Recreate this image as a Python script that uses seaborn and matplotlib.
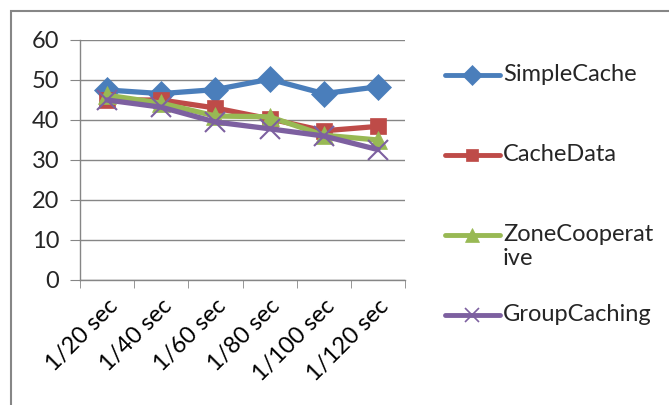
import pandas as pd
import numpy as np
import matplotlib.pyplot as plt
import seaborn as sns
from matplotlib.lines import Line2D
from matplotlib.patches import Rectangle

# Values
intervals = ['1/20 sec', '1/40 sec', '1/60 sec', '1/80 sec', '1/100 sec', '1/120 sec']
simple_cache = [47.5, 46.6, 47.6, 50.2, 46.6, 48.3]
cache_data = [45.0, 45.0, 43.0, 40.3, 37.3, 38.4]
zone_coop = [46.2, 44.2, 41.0, 40.8, 36.2, 35.0]
group_caching = [45.0, 43.2, 39.5, 37.8, 36.0, 32.6]
series_names = ['SimpleCache', 'CacheData', 'ZoneCooperative', 'GroupCaching']
legend_labels = ['SimpleCache', 'CacheData', 'ZoneCooperat\nive', 'GroupCaching']

colors = ['#4A7EBB', '#BE4B48', '#98B954', '#7D60A0']
markers = ['D', 's', '^', 'x']
msizes = [13, 12, 13, 14]
FS = 17

df = pd.DataFrame({
    'interval': intervals * 4,
    'value': simple_cache + cache_data + zone_coop + group_caching,
    'series': np.repeat(series_names, len(intervals)),
})

sns.set_style('white')
plt.rcParams['font.family'] = ['Lato', 'DejaVu Sans']

fig = plt.figure(figsize=(6.69, 4.05), dpi=100)
ax = fig.add_axes([80 / 669, 1 - 280 / 405, 325 / 669, 240 / 405])

for name, col, mk, ms in zip(series_names, colors, markers, msizes):
    sub = df[df['series'] == name]
    sns.lineplot(data=sub, x='interval', y='value', ax=ax, color=col, lw=3.8,
                 marker=mk, markersize=ms, markeredgecolor=col,
                 markeredgewidth=1.5 if mk == 'x' else 0.5, sort=False, legend=False)

ax.set_xlim(-0.5, len(intervals) - 0.5)
ax.set_ylim(0, 60)
ax.set_yticks(range(0, 61, 10))
ax.yaxis.grid(True, color='#868686', lw=1)
ax.set_xlabel('')
ax.set_ylabel('')
for s in ['top', 'right']:
    ax.spines[s].set_visible(False)
for s in ['left', 'bottom']:
    ax.spines[s].set_color('#868686')
    ax.spines[s].set_linewidth(1)

ax.set_xticks(np.arange(len(intervals)))
ax.set_xticklabels(intervals, rotation=45, ha='right', va='top', rotation_mode='anchor')
ax.set_xticks(np.arange(-0.5, len(intervals)), minor=True)
ax.tick_params(axis='x', which='major', length=0, pad=11, labelsize=FS, colors='black')
ax.tick_params(axis='x', which='minor', length=6, color='#868686', direction='out', bottom=True)
ax.tick_params(axis='y', length=7, color='#868686', direction='out', left=True,
               labelsize=FS, pad=8)

# legend drawn in figure space
ys = [75, 155, 235, 315]
for lab, col, mk, ms, y in zip(legend_labels, colors, markers, msizes, ys):
    yf = 1 - y / 405
    fig.add_artist(Line2D([445 / 669, 500 / 669], [yf, yf], color=col, lw=3.5,
                          transform=fig.transFigure))
    fig.add_artist(Line2D([472 / 669], [yf], color=col, marker=mk,
                          markersize=ms * 0.75, markeredgewidth=1.2 if mk == 'x' else 0.5,
                          transform=fig.transFigure))
    fig.text(503 / 669, yf + 11 / 405, lab, fontsize=FS, va='top', ha='left',
             linespacing=1.2)

# chart frame
fig.add_artist(Rectangle((11 / 669, -0.1), 1.2, 0.1 + 1 - 11 / 405, fill=False,
                         edgecolor='#868686', lw=1.5, transform=fig.transFigure))

fig.savefig('out.png', dpi=100)
